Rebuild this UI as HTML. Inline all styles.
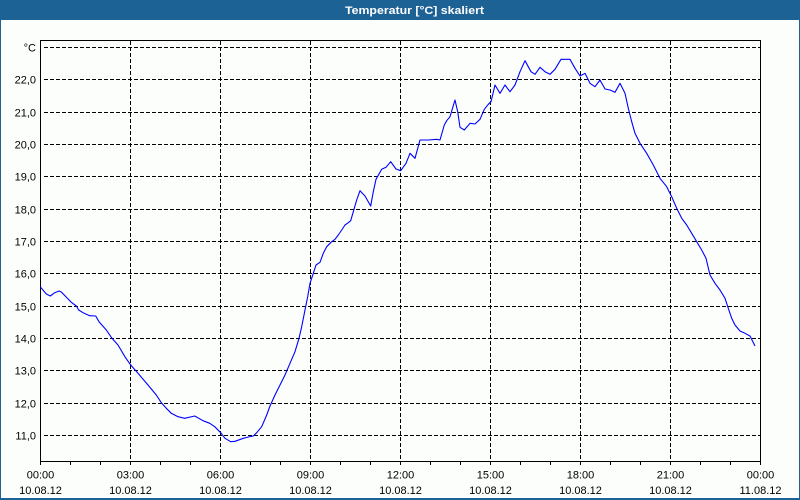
<!DOCTYPE html>
<html>
<head>
<meta charset="utf-8">
<style>
html,body{margin:0;padding:0;}
body{width:800px;height:500px;overflow:hidden;background:#1c6295;}
svg{display:block;}
text{font-family:"Liberation Sans","DejaVu Sans",sans-serif;font-size:11px;fill:#000;}
</style>
</head>
<body>
<svg width="800" height="500" viewBox="0 0 800 500" xmlns="http://www.w3.org/2000/svg">
  <rect x="0" y="0" width="800" height="500" fill="#1c6295"/>
  <rect x="1" y="20" width="798" height="478" fill="#fcfefc"/>
  <text x="345" y="14" style="font-weight:bold;fill:#fff" textLength="139" lengthAdjust="spacingAndGlyphs">Temperatur [°C] skaliert</text>

  <!-- horizontal grid -->
  <g stroke="#000" stroke-width="1" stroke-dasharray="4,2" shape-rendering="crispEdges">
    <line x1="44" y1="47.5" x2="760" y2="47.5"/>
    <line x1="44" y1="79.5" x2="760" y2="79.5"/>
    <line x1="44" y1="112.5" x2="760" y2="112.5"/>
    <line x1="44" y1="144.5" x2="760" y2="144.5"/>
    <line x1="44" y1="176.5" x2="760" y2="176.5"/>
    <line x1="44" y1="209.5" x2="760" y2="209.5"/>
    <line x1="44" y1="241.5" x2="760" y2="241.5"/>
    <line x1="44" y1="273.5" x2="760" y2="273.5"/>
    <line x1="44" y1="306.5" x2="760" y2="306.5"/>
    <line x1="44" y1="338.5" x2="760" y2="338.5"/>
    <line x1="44" y1="370.5" x2="760" y2="370.5"/>
    <line x1="44" y1="403.5" x2="760" y2="403.5"/>
    <line x1="44" y1="435.5" x2="760" y2="435.5"/>
  </g>
  <!-- vertical grid -->
  <g stroke="#000" stroke-width="1" stroke-dasharray="4,2" shape-rendering="crispEdges">
    <line x1="130.5" y1="41" x2="130.5" y2="461"/>
    <line x1="220.5" y1="41" x2="220.5" y2="461"/>
    <line x1="310.5" y1="41" x2="310.5" y2="461"/>
    <line x1="400.5" y1="41" x2="400.5" y2="461"/>
    <line x1="490.5" y1="41" x2="490.5" y2="461"/>
    <line x1="580.5" y1="41" x2="580.5" y2="461"/>
    <line x1="670.5" y1="41" x2="670.5" y2="461"/>
  </g>
  <!-- box -->
  <rect x="40.5" y="40.5" width="720" height="421" fill="none" stroke="#000" stroke-width="1" shape-rendering="crispEdges"/>
  <!-- ticks -->
  <g stroke="#000" stroke-width="1" shape-rendering="crispEdges">
    <line x1="40.5" y1="461" x2="40.5" y2="465"/>
    <line x1="70.5" y1="461" x2="70.5" y2="465"/>
    <line x1="100.5" y1="461" x2="100.5" y2="465"/>
    <line x1="130.5" y1="461" x2="130.5" y2="465"/>
    <line x1="160.5" y1="461" x2="160.5" y2="465"/>
    <line x1="190.5" y1="461" x2="190.5" y2="465"/>
    <line x1="220.5" y1="461" x2="220.5" y2="465"/>
    <line x1="250.5" y1="461" x2="250.5" y2="465"/>
    <line x1="280.5" y1="461" x2="280.5" y2="465"/>
    <line x1="310.5" y1="461" x2="310.5" y2="465"/>
    <line x1="340.5" y1="461" x2="340.5" y2="465"/>
    <line x1="370.5" y1="461" x2="370.5" y2="465"/>
    <line x1="400.5" y1="461" x2="400.5" y2="465"/>
    <line x1="430.5" y1="461" x2="430.5" y2="465"/>
    <line x1="460.5" y1="461" x2="460.5" y2="465"/>
    <line x1="490.5" y1="461" x2="490.5" y2="465"/>
    <line x1="520.5" y1="461" x2="520.5" y2="465"/>
    <line x1="550.5" y1="461" x2="550.5" y2="465"/>
    <line x1="580.5" y1="461" x2="580.5" y2="465"/>
    <line x1="610.5" y1="461" x2="610.5" y2="465"/>
    <line x1="640.5" y1="461" x2="640.5" y2="465"/>
    <line x1="670.5" y1="461" x2="670.5" y2="465"/>
    <line x1="700.5" y1="461" x2="700.5" y2="465"/>
    <line x1="730.5" y1="461" x2="730.5" y2="465"/>
    <line x1="760.5" y1="461" x2="760.5" y2="465"/>
  </g>

  <!-- y labels -->
  <g text-anchor="end">
    <text x="36" y="51.5">°C</text>
    <text x="36" y="83.5">22,0</text>
    <text x="36" y="116.5">21,0</text>
    <text x="36" y="148.5">20,0</text>
    <text x="36" y="180.5">19,0</text>
    <text x="36" y="213.5">18,0</text>
    <text x="36" y="245.5">17,0</text>
    <text x="36" y="277.5">16,0</text>
    <text x="36" y="310.5">15,0</text>
    <text x="36" y="342.5">14,0</text>
    <text x="36" y="374.5">13,0</text>
    <text x="36" y="407.5">12,0</text>
    <text x="36" y="439.5">11,0</text>
  </g>

  <!-- x labels -->
  <g text-anchor="middle">
    <text x="40.5" y="478.5">00:00</text><text x="40.5" y="494">10.08.12</text>
    <text x="130.5" y="478.5">03:00</text><text x="130.5" y="494">10.08.12</text>
    <text x="220.5" y="478.5">06:00</text><text x="220.5" y="494">10.08.12</text>
    <text x="310.5" y="478.5">09:00</text><text x="310.5" y="494">10.08.12</text>
    <text x="400.5" y="478.5">12:00</text><text x="400.5" y="494">10.08.12</text>
    <text x="490.5" y="478.5">15:00</text><text x="490.5" y="494">10.08.12</text>
    <text x="580.5" y="478.5">18:00</text><text x="580.5" y="494">10.08.12</text>
    <text x="670.5" y="478.5">21:00</text><text x="670.5" y="494">10.08.12</text>
    <text x="760.5" y="478.5">00:00</text><text x="760.5" y="494">11.08.12</text>
  </g>

  <!-- data -->
  <polyline fill="none" stroke="#0000ff" stroke-width="1.1" stroke-linejoin="round" points="
40.5,286.5 40.7,287.3 46.3,294 50.3,296 54.7,292.7 59,291 61.3,292 71.3,302.3 76.3,306 78.7,310 83,312.7 89.7,315.7 95.7,316 99,321.7 106.3,330 112,338.3 118,345 125.3,357.3 130.7,365 138,373.3 148,385 156.3,395 161.3,402.7 166.3,408.3 171.3,413.3 178,416.7 184.7,418.3 194.7,416 203,420.7 209.7,423.3 214.7,426.7 220.7,432.7 225,438.3 230.7,441.7 235,441.3 243.3,438.3 248.3,437 253.3,436 256.7,432.7 261.7,426.7 266.7,415 270,406 275,395 280,385 285,375 290,363.3 295,351.7 299,338.3 301.7,326.7 305,310 307.7,296.7 310,283.3 313.3,273.3 316,265 320,262.3 323.3,253.3 326.7,246.7 331.7,241.7 335,239.3 338.3,235 341.7,230 345,225 348.3,222.7 350.7,220.7 353.3,211.7 356.7,200 360,190.7 365,196 370.7,206 373.3,191.7 376,179.3 381.7,169.3 386,167.3 390.7,161.7 396,169 400.7,170.7 406,163.3 410,153.3 415,158.3 420,140 428.3,140 436.7,139.3 440,140 444.3,125 446.7,120.7 450,116.7 455,100 457.7,111.7 460,127.3 464.3,130 470,123.3 475,124 480,119.3 484.3,109.3 488.3,104.3 491,101.7 495,85 500,93.3 505,85 510,91.7 515,85 520,71.7 525,60.7 531,71.7 535,74.3 540,67.3 545,71.7 550,74.3 555,69.3 561,59.3 570,59.3 575,68.3 580,76 585,73.3 590,83.3 595,86.7 600,80 605,89 610,90 615,92.3 620,83.3 625,93.3 628.3,108.3 631.7,121.7 635,133.3 640,143.3 646.7,153.3 653.3,165 660,178.3 666.7,186.7 671.7,196.7 676.7,208.3 681.7,218.3 686.7,225 691.7,233.3 696.7,241.7 701.7,250 706,258.3 710,275 715,283.3 720,290 725,298.3 728.3,308.3 731.7,318.3 735,325 740,331 745,333.3 750,336 755,346"/>
</svg>
</body>
</html>
